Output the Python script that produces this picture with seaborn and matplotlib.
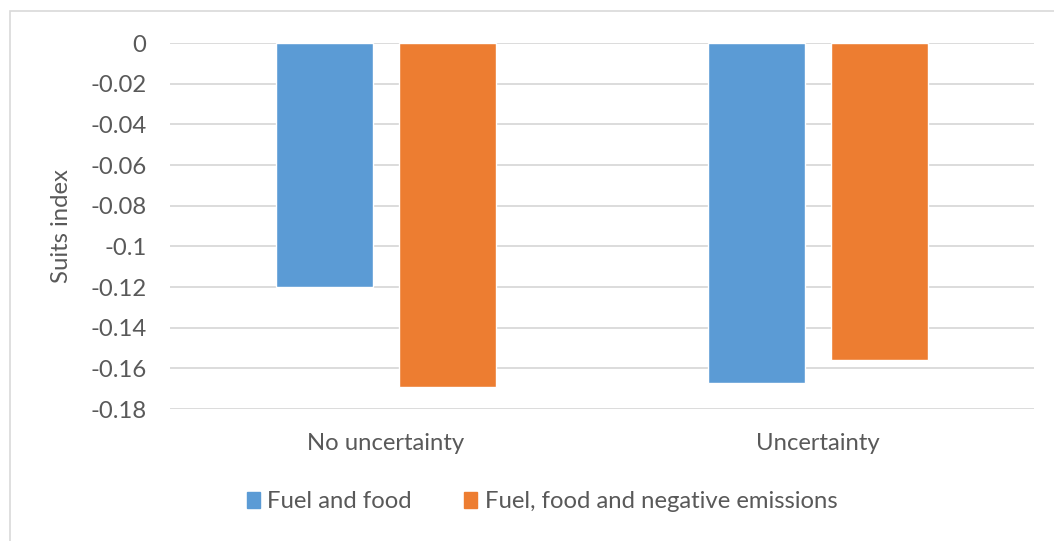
import matplotlib
matplotlib.use("Agg")
import matplotlib.pyplot as plt
import matplotlib.patches as mpatches
import seaborn as sns
import pandas as pd

scenarios = ["No uncertainty", "Uncertainty"]
series = ["Fuel and food", "Fuel, food and negative emissions"]
fuel_food = [-0.12, -0.167]
fuel_food_neg = [-0.169, -0.156]
yticks = [0, -0.02, -0.04, -0.06, -0.08, -0.1, -0.12, -0.14, -0.16, -0.18]
colors = ["#5B9BD5", "#ED7D31"]

df = pd.DataFrame({
    "scenario": scenarios * 2,
    "series": [series[0]] * 2 + [series[1]] * 2,
    "value": fuel_food + fuel_food_neg,
})

sns.set_style("white")
plt.rcParams["font.family"] = ["Lato", "DejaVu Sans"]
text_color = "#595959"
fs = 17.2

fig = plt.figure(figsize=(10.54, 5.41), dpi=100)
ax = fig.add_axes([170 / 1054, 1 - 409 / 541, (1034 - 170) / 1054, (409 - 43) / 541])

sns.barplot(data=df, x="scenario", y="value", hue="series", palette=colors,
            order=scenarios, hue_order=series, width=0.57, gap=0.215,
            saturation=1, ax=ax, legend=False)

ax.set_ylim(-0.18, 0)
ax.set_xlim(-0.5, 1.5)
ax.set_yticks(yticks)
ax.set_yticklabels(["0" if v == 0 else f"{v:g}" for v in yticks])
ax.yaxis.grid(True, color="#D9D9D9", linewidth=1.3)
ax.set_axisbelow(True)
for s in ax.spines.values():
    s.set_visible(False)
ax.tick_params(axis="both", length=0, labelsize=fs, colors=text_color)
ax.tick_params(axis="y", pad=17)
ax.tick_params(axis="x", pad=17)
ax.set_xlabel("")
ax.set_ylabel("Suits index", fontsize=fs, color=text_color)
ax.yaxis.set_label_coords(-98 / 864, 0.5)

handles = [mpatches.Patch(color=c, label=s) for c, s in zip(colors, series)]
fig.legend(handles=handles, loc="center", bbox_to_anchor=(542 / 1054, 1 - 502 / 541),
           ncol=2, frameon=False, fontsize=fs, labelcolor=text_color,
           handlelength=0.55, handleheight=0.65, handletextpad=0.3, columnspacing=2.2)

# chart-area border
fig.add_artist(mpatches.Rectangle((10 / 1054, -0.05), 1.1, 1 - 11 / 541 + 0.05,
                                  transform=fig.transFigure, fill=False,
                                  edgecolor="#D9D9D9", linewidth=1.2))

fig.savefig("out.png", dpi=100, facecolor="white")
